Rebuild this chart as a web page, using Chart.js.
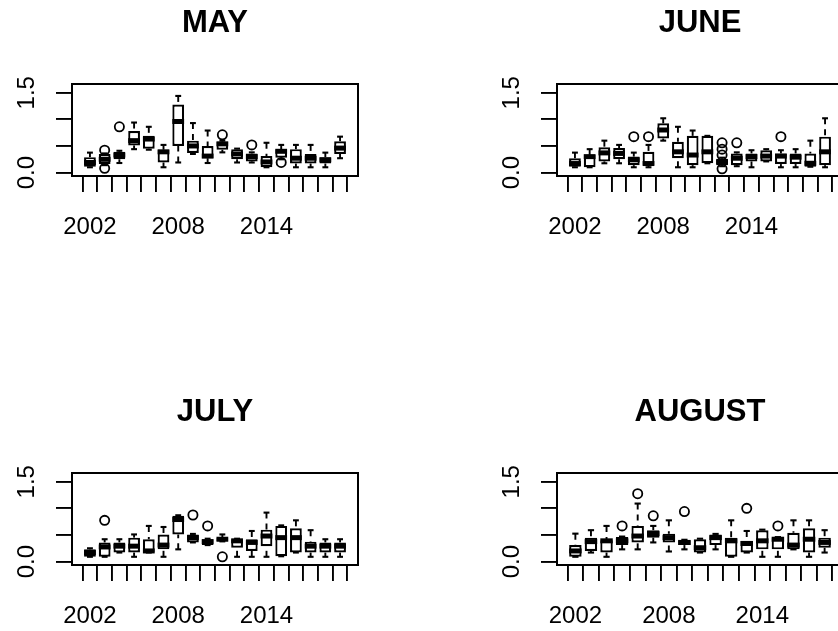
<!DOCTYPE html>
<html>
<head>
<meta charset="utf-8">
<script src="https://cdn.jsdelivr.net/npm/chart.js@4"></script>
<style>
  html, body { margin: 0; padding: 0; background: #fff; overflow: hidden; width: 838px; height: 631px; }
  canvas { position: absolute; }
</style>
</head>
<body>
<canvas id="may" width="485" height="389" style="left:0;top:0"></canvas>
<canvas id="june" width="485" height="389" style="left:485px;top:0"></canvas>
<canvas id="july" width="485" height="389" style="left:0;top:389px"></canvas>
<canvas id="august" width="485" height="389" style="left:485px;top:389px"></canvas>
<script>
/* ========= DATA ========= */
const years = [2002, 2003, 2004, 2005, 2006, 2007, 2008, 2009, 2010,
               2011, 2012, 2013, 2014, 2015, 2016, 2017, 2018, 2019];
const yearLabels = [2002, 2008, 2014];
const yTicks = [0, 0.5, 1, 1.5];
const yTickLabels = ['0.0', '', '', '1.5'];

// each box: [lower whisker, Q1, median, Q3, upper whisker]
const mayStats = [
  [0.10, 0.11, 0.19, 0.29, 0.375], [0.14, 0.16, 0.25, 0.35, 0.36], [0.18, 0.25, 0.33, 0.39, 0.41],
  [0.44, 0.51, 0.60, 0.78, 0.94], [0.43, 0.45, 0.63, 0.69, 0.86], [0.10, 0.19, 0.39, 0.43, 0.52],
  [0.19, 0.50, 0.96, 1.28, 1.44], [0.35, 0.37, 0.50, 0.60, 0.93], [0.18, 0.27, 0.31, 0.50, 0.79],
  [0.38, 0.43, 0.54, 0.58, 0.60], [0.19, 0.25, 0.35, 0.44, 0.45], [0.19, 0.21, 0.30, 0.36, 0.38],
  [0.10, 0.10, 0.20, 0.31, 0.56], [0.25, 0.28, 0.40, 0.44, 0.52], [0.10, 0.17, 0.27, 0.44, 0.52],
  [0.10, 0.17, 0.27, 0.35, 0.52], [0.10, 0.17, 0.24, 0.29, 0.375], [0.27, 0.35, 0.46, 0.59, 0.675]
];
const mayOut = [[], [0.42, 0.08], [0.86], [], [], [], [], [], [], [0.71], [], [0.52], [], [0.19], [], [], [], []];

const juneStats = [
  [0.10, 0.11, 0.17, 0.27, 0.375], [0.10, 0.10, 0.30, 0.33, 0.44], [0.175, 0.21, 0.37, 0.475, 0.60],
  [0.175, 0.25, 0.36, 0.46, 0.52], [0.10, 0.14, 0.24, 0.30, 0.375], [0.10, 0.14, 0.17, 0.39, 0.52],
  [0.60, 0.64, 0.80, 0.925, 1.02], [0.10, 0.27, 0.39, 0.58, 0.86], [0.10, 0.14, 0.33, 0.69, 0.79],
  [0.175, 0.175, 0.39, 0.69, 0.69], [0.12, 0.14, 0.20, 0.26, 0.28], [0.12, 0.14, 0.27, 0.36, 0.38],
  [0.10, 0.21, 0.30, 0.36, 0.42], [0.21, 0.21, 0.31, 0.42, 0.44], [0.10, 0.16, 0.31, 0.36, 0.42],
  [0.10, 0.16, 0.29, 0.36, 0.44], [0.11, 0.11, 0.175, 0.36, 0.60], [0.10, 0.14, 0.39, 0.675, 1.02]
];
const juneOut = [[], [], [], [], [0.675], [0.675], [], [], [], [], [0.56, 0.44, 0.33, 0.07], [0.56], [], [], [0.675], [], [], []];

const julyStats = [
  [0.09, 0.09, 0.17, 0.23, 0.25], [0.09, 0.09, 0.275, 0.36, 0.42], [0.17, 0.17, 0.29, 0.36, 0.42],
  [0.09, 0.17, 0.29, 0.45, 0.51], [0.17, 0.17, 0.20, 0.42, 0.67], [0.09, 0.23, 0.31, 0.51, 0.65],
  [0.23, 0.51, 0.79, 0.86, 0.87], [0.36, 0.36, 0.45, 0.51, 0.52], [0.31, 0.31, 0.375, 0.42, 0.43],
  [0.38, 0.38, 0.42, 0.45, 0.51], [0.09, 0.26, 0.39, 0.42, 0.43], [0.09, 0.20, 0.36, 0.42, 0.575],
  [0.09, 0.29, 0.48, 0.60, 0.92], [0.10, 0.10, 0.45, 0.67, 0.68], [0.17, 0.17, 0.45, 0.625, 0.775],
  [0.09, 0.17, 0.29, 0.375, 0.59], [0.09, 0.17, 0.29, 0.36, 0.42], [0.09, 0.17, 0.29, 0.36, 0.42]
];
const julyOut = [[], [0.775], [], [], [], [], [], [0.875], [0.67], [0.09], [], [], [], [], [], [], [], []];

const augustStats = [
  [0.09, 0.09, 0.20, 0.31, 0.525], [0.17, 0.20, 0.375, 0.45, 0.59], [0.09, 0.17, 0.39, 0.40, 0.67],
  [0.23, 0.31, 0.39, 0.46, 0.47], [0.23, 0.36, 0.48, 0.67, 1.09], [0.36, 0.45, 0.525, 0.59, 0.67],
  [0.19, 0.36, 0.45, 0.525, 0.775], [0.23, 0.31, 0.36, 0.40, 0.41], [0.17, 0.17, 0.26, 0.42, 0.43],
  [0.23, 0.31, 0.45, 0.51, 0.52], [0.09, 0.09, 0.39, 0.45, 0.775], [0.17, 0.17, 0.34, 0.39, 0.575],
  [0.09, 0.23, 0.39, 0.59, 0.60], [0.09, 0.23, 0.42, 0.45, 0.46], [0.23, 0.23, 0.31, 0.54, 0.775],
  [0.09, 0.17, 0.42, 0.625, 0.775], [0.17, 0.26, 0.36, 0.45, 0.59]
];
const augustOut = [[], [], [], [0.67], [1.275], [0.86], [], [0.94], [], [], [], [1.0], [], [0.67], [], [], []];

/* ========= STYLE ========= */
const INK = '#000';
const FONT = '"Liberation Sans", Arial, sans-serif';
const Y_MIN = -0.064, Y_MAX = 1.664;

/* ========= BOXPLOT PLUGIN ========= */
// whiskers, staples, medians, frame and all text
const boxPlot = {
  id: 'boxPlot',
  afterDraw(chart, args, opts) {
    const { ctx, chartArea: a, scales: { x, y } } = chart;
    const unit = x.getPixelForValue(1) - x.getPixelForValue(0);
    const half = unit * 0.4;
    const seg = (x1, y1, x2, y2) => { ctx.beginPath(); ctx.moveTo(x1, y1); ctx.lineTo(x2, y2); ctx.stroke(); };

    ctx.save();
    ctx.strokeStyle = INK;
    ctx.lineCap = 'butt';
    opts.stats.forEach((s, i) => {
      const cx = x.getPixelForValue(i + 1);
      const [lo, q1, med, q3, hi] = s.map(v => y.getPixelForValue(v));
      ctx.lineWidth = 1.9;
      ctx.setLineDash([6, 5]);
      if (hi < q3) seg(cx, hi, cx, q3);
      if (lo > q1) seg(cx, lo, cx, q1);
      ctx.setLineDash([]);
      ctx.lineWidth = 2.1;
      seg(cx - half / 2, hi, cx + half / 2, hi);
      seg(cx - half / 2, lo, cx + half / 2, lo);
      ctx.lineWidth = 5;
      seg(cx - half, med, cx + half, med);
    });

    // plot frame
    ctx.lineWidth = 2;
    ctx.strokeRect(a.left, a.top, a.right - a.left, a.bottom - a.top);

    ctx.fillStyle = INK;
    // title
    ctx.font = 'bold 31px ' + FONT;
    ctx.textAlign = 'center';
    ctx.textBaseline = 'alphabetic';
    ctx.fillText(opts.title, (a.left + a.right) / 2, a.top - 52);

    // year labels
    ctx.font = '24px ' + FONT;
    yearLabels.forEach(yr => {
      const i = years.indexOf(yr) + 1;
      ctx.fillText(String(yr), x.getPixelForValue(i), a.bottom + 58);
    });

    // rotated value labels
    yTicks.forEach((v, k) => {
      if (!yTickLabels[k]) return;
      ctx.save();
      ctx.translate(a.left - 38, y.getPixelForValue(v));
      ctx.rotate(-Math.PI / 2);
      ctx.fillText(yTickLabels[k], 0, 0);
      ctx.restore();
    });
    ctx.restore();
  }
};

/* ========= BUILD PANELS ========= */
function makePanel(id, title, stats, outliers) {
  const n = stats.length;
  const pad = 0.04 * n;
  const boxes = stats.map((s, i) => ({ x: i + 1, y: [s[1], s[3]] }));
  const pts = [];
  outliers.forEach((list, i) => list.forEach(v => pts.push({ x: i + 1, y: v })));

  const tickGrid = {
    display: true, drawOnChartArea: false, drawTicks: true,
    tickLength: 16, color: INK, lineWidth: 1.9
  };

  return new Chart(document.getElementById(id).getContext('2d'), {
    type: 'bar',
    data: {
      datasets: [
        {
          type: 'bar', data: boxes,
          backgroundColor: '#fff', borderColor: INK, borderWidth: 2.2,
          borderSkipped: false, categoryPercentage: 1, barPercentage: 0.8
        },
        {
          type: 'scatter', data: pts,
          pointStyle: 'circle', pointRadius: 4.6, pointBorderWidth: 1.8,
          pointBackgroundColor: 'rgba(0,0,0,0)', pointBorderColor: INK
        }
      ]
    },
    options: {
      responsive: false,
      animation: false,
      devicePixelRatio: 1,
      layout: { padding: { left: 56, top: 84, right: 127, bottom: 197 } },
      scales: {
        x: {
          type: 'linear', offset: false,
          min: 0.5 - pad, max: n + 0.5 + pad,
          afterBuildTicks: s => { s.ticks = stats.map((_, i) => ({ value: i + 1 })); },
          grid: tickGrid, border: { display: false },
          ticks: { display: false }
        },
        y: {
          min: Y_MIN, max: Y_MAX,
          afterBuildTicks: s => { s.ticks = yTicks.map(v => ({ value: v })); },
          grid: tickGrid, border: { display: false },
          ticks: { display: false }
        }
      },
      plugins: {
        legend: { display: false },
        tooltip: { enabled: false },
        boxPlot: { title, stats }
      }
    },
    plugins: [boxPlot]
  });
}

makePanel('may', 'MAY', mayStats, mayOut);
makePanel('june', 'JUNE', juneStats, juneOut);
makePanel('july', 'JULY', julyStats, julyOut);
makePanel('august', 'AUGUST', augustStats, augustOut);
</script>
</body>
</html>
